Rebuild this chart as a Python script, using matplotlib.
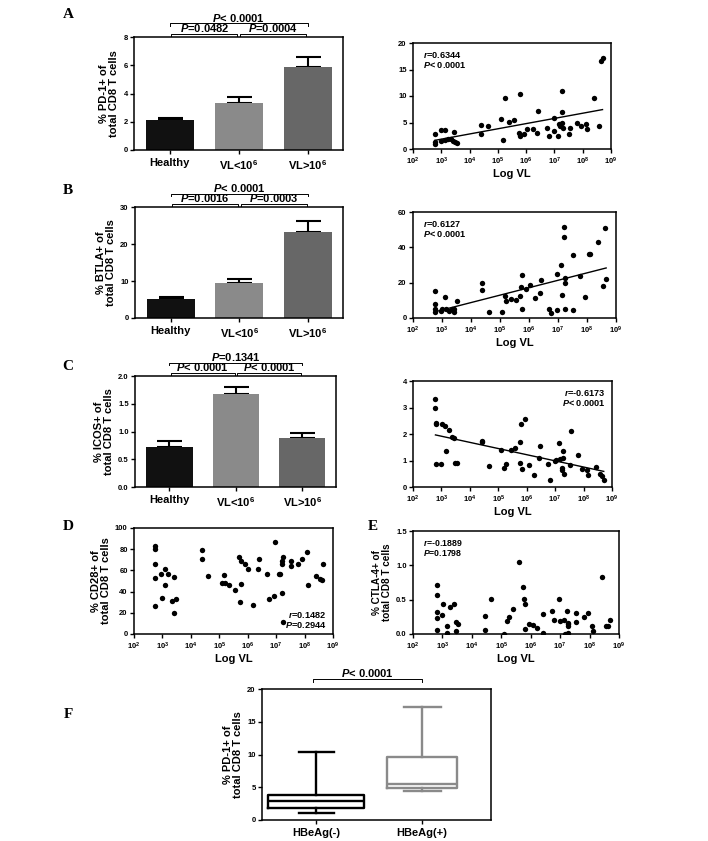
import numpy as np
import matplotlib
matplotlib.use("Agg")
import matplotlib.pyplot as plt
import matplotlib.transforms as mtransforms
from matplotlib.ticker import FixedLocator

plt.rcParams['font.family'] = ['Liberation Sans', 'DejaVu Sans']
plt.rcParams['font.weight'] = 'bold'
plt.rcParams['axes.labelweight'] = 'bold'
plt.rcParams['mathtext.fontset'] = 'custom'
plt.rcParams['mathtext.it'] = 'Liberation Sans:italic:bold'
plt.rcParams['mathtext.rm'] = 'Liberation Sans:bold'
plt.rcParams['mathtext.bf'] = 'Liberation Sans:bold'

# ---------------- data ----------------
groups = ["Healthy", "VL<10$^{6}$", "VL>10$^{6}$"]
bar_colors = ["#111111", "#8a8a8a", "#676767"]

pd1_mean = [2.1, 3.34, 5.85]
pd1_err = [0.15, 0.40, 0.75]
btla_mean = [5.1, 9.4, 23.2]
btla_err = [0.5, 1.1, 2.9]
icos_mean = [0.72, 1.68, 0.88]
icos_err = [0.10, 0.13, 0.09]

# scatter A: PD-1 vs log10 VL
a_logvl = [2.77, 2.77, 2.77, 2.98, 3.12, 3.0, 3.12, 3.24, 3.36, 3.44, 3.42, 3.48, 3.54,
           4.42, 4.42, 4.64, 5.1, 5.17, 5.25, 5.39, 5.57, 5.75, 5.8, 5.8, 5.92, 6.04,
           6.23, 6.4, 6.43, 6.73, 6.8, 6.99, 7.0, 7.12, 7.16, 7.2, 7.26, 7.25, 7.28,
           7.3, 7.53, 7.55, 7.79, 7.94, 8.12, 8.14, 8.4, 8.57, 8.64, 8.7]
a_val = [2.9, 1.3, 1.0, 3.6, 3.6, 1.6, 1.75, 1.9, 1.9, 3.3, 1.6, 1.25, 1.1,
         4.5, 2.9, 4.4, 5.6, 1.75, 9.6, 5.1, 5.4, 3.0, 2.5, 10.3, 2.75, 3.8,
         3.8, 3.1, 7.25, 4.0, 2.5, 5.8, 3.4, 2.5, 4.7, 4.25, 10.9, 6.9, 5.0,
         3.9, 2.9, 4.0, 5.0, 4.25, 4.75, 3.75, 9.6, 4.25, 16.6, 17.2]

# scatter B: BTLA vs log10 VL
b_logvl = [2.76, 2.76, 2.76, 2.76, 2.96, 3.01, 3.1, 3.15, 3.23, 3.33, 3.43, 3.43, 3.5,
           4.39, 4.39, 4.62, 5.07, 5.16, 5.22, 5.37, 5.56, 5.7, 5.72, 5.77, 5.77, 5.91,
           6.05, 6.22, 6.37, 6.42, 6.7, 6.76, 6.95, 6.97, 7.1, 7.13, 7.2, 7.21, 7.24,
           7.25, 7.25, 7.52, 7.5, 7.76, 7.92, 8.08, 8.12, 8.39, 8.56, 8.62, 8.66]
b_val = [15.5, 8.1, 5.3, 3.6, 3.8, 4.9, 11.7, 4.9, 4.0, 5.3, 5.1, 3.4, 9.4,
         20.0, 15.8, 3.2, 3.2, 12.6, 9.8, 10.6, 10.4, 12.3, 17.4, 24.2, 5.3, 16.6,
         18.5, 11.1, 14.0, 21.5, 4.9, 2.8, 4.3, 25.1, 30.0, 12.8, 51.3, 45.8, 22.8,
         5.1, 19.8, 35.5, 4.3, 23.6, 11.7, 36.4, 36.4, 43.2, 18.1, 50.8, 22.3]

# scatter C: ICOS vs log10 VL
c_logvl = [2.79, 2.79, 2.8, 2.8, 2.8, 3.0, 3.03, 3.14, 3.27, 3.15, 3.38, 3.45, 3.48, 3.55,
           4.44, 4.44, 4.66, 5.11, 5.21, 5.26, 5.43, 5.6, 5.75, 5.76, 5.8, 5.82, 5.95,
           6.07, 6.24, 6.42, 6.45, 6.75, 6.81, 6.98, 7.02, 7.13, 7.18, 7.25, 7.28, 7.28,
           7.25, 7.3, 7.56, 7.53, 7.81, 7.96, 8.12, 8.17, 8.42, 8.59, 8.66, 8.71]
c_val = [3.31, 2.99, 2.42, 2.36, 0.85, 0.85, 2.36, 2.3, 2.15, 1.36, 1.89, 1.85, 0.91, 0.91,
         1.74, 1.69, 0.78, 1.39, 0.73, 0.86, 1.41, 1.46, 1.69, 0.92, 2.36, 0.69, 2.56,
         0.83, 0.47, 1.11, 1.55, 0.86, 0.28, 0.98, 1.03, 1.67, 1.05, 0.72, 1.09, 1.35,
         0.66, 0.48, 2.11, 0.82, 1.21, 0.69, 0.63, 0.44, 0.77, 0.5, 0.4, 0.25]

# D: CD28 vs log10 VL
d_logvl = [2.74, 2.74, 2.74, 2.74, 2.74, 2.96, 2.98, 3.09, 3.09, 3.21, 3.33, 3.42, 3.42, 3.49,
           4.39, 4.39, 4.62, 5.08, 5.15, 5.21, 5.35, 5.55, 5.71, 5.72, 5.75, 5.78, 5.91,
           6.0, 6.19, 6.35, 6.41, 6.68, 6.74, 6.92, 6.96, 7.09, 7.14, 7.21, 7.21, 7.22,
           7.25, 7.24, 7.51, 7.52, 7.76, 7.92, 8.08, 8.11, 8.39, 8.55, 8.6, 8.65]
d_val = [82.6, 80.1, 66.1, 53.2, 26.6, 56.3, 34.2, 61.7, 46.5, 56.3, 31.3, 53.8, 19.6, 32.6,
         79.7, 70.3, 55.1, 48.1, 55.7, 48.4, 46.2, 41.8, 72.8, 30.4, 47.5, 69.3, 65.8,
         61.1, 27.8, 61.4, 70.3, 56.3, 32.9, 35.4, 86.7, 56.6, 56.6, 38.3, 69.0, 66.1,
         72.8, 11.4, 69.3, 64.2, 65.8, 71.2, 77.5, 46.5, 55.1, 52.2, 50.6, 66.5]

# E: CTLA-4 vs log10 VL
e_logvl = [2.8, 2.81, 2.8, 2.8, 2.8, 3.0, 3.02, 3.14, 3.16, 3.27, 3.38, 3.45, 3.45, 3.52,
           4.43, 4.43, 4.65, 5.1, 5.18, 5.25, 5.41, 5.59, 5.75, 5.76, 5.8, 5.82, 5.95,
           6.07, 6.23, 6.43, 6.41, 6.72, 6.8, 6.97, 7.0, 7.14, 7.16, 7.23, 7.25, 7.26,
           7.27, 7.26, 7.53, 7.53, 7.8, 7.93, 8.09, 8.11, 8.41, 8.56, 8.61, 8.68]
e_val = [0.72, 0.57, 0.32, 0.24, 0.06, 0.27, 0.44, 0.12, 0.02, 0.40, 0.44, 0.17, 0.04, 0.15,
         0.26, 0.06, 0.51, 0.0, 0.19, 0.25, 0.37, 1.05, 0.68, 0.51, 0.44, 0.07, 0.15,
         0.13, 0.09, 0.29, 0.01, 0.34, 0.2, 0.51, 0.19, 0.21, 0.0, 0.33, 0.16, 0.11,
         0.01, 0.14, 0.3, 0.18, 0.25, 0.3, 0.12, 0.05, 0.83, 0.11, 0.12, 0.2]

# F: box plot stats (whislo, q1, med, q3, whishi)
f_labels = ["HBeAg(-)", "HBeAg(+)"]
f_neg = [1.12, 1.83, 2.9, 3.77, 10.38]
f_pos = [4.38, 4.83, 5.45, 9.62, 17.3]

W, H = 708, 841
fig = plt.figure(figsize=(W / 100, H / 100), dpi=100)


def add_ax(l, r, t, b):
    return fig.add_axes([l / W, 1 - b / H, (r - l) / W, (b - t) / H])


TICK = 5.5
LAB = 8.0
PTXT = 8.0


def style(ax):
    for s in ax.spines.values():
        s.set_linewidth(1.1)
    ax.tick_params(direction='out', length=3, width=1.0, labelsize=TICK, pad=1.5)


def bracket(ax, x1, x2, y, txt, ty, h=0.025):
    tr = mtransforms.blended_transform_factory(ax.transData, ax.transAxes)
    ax.plot([x1, x1, x2, x2], [y - h, y, y, y - h], transform=tr, color='k',
            lw=0.7, clip_on=False)
    ax.text((x1 + x2) / 2, ty, txt, transform=tr, ha='center', va='bottom',
            fontsize=PTXT, fontweight='bold')


def bar_panel(ax, means, errs, ylim, yticks, yticklabels, ylabel, ptxt):
    x = np.arange(3)
    ax.bar(x, means, width=0.7, color=bar_colors, zorder=2)
    ax.errorbar(x, means, yerr=[[0, 0, 0], errs], fmt='none', ecolor='k',
                elinewidth=1.5, capsize=9, capthick=1.5, zorder=1)
    ax.set_xlim(-0.52, 2.51)
    ax.set_ylim(*ylim)
    ax.set_yticks(yticks)
    ax.set_yticklabels(yticklabels)
    ax.set_xticks(x)
    ax.set_xticklabels(groups, fontsize=LAB)
    ax.set_ylabel(ylabel, fontsize=LAB, labelpad=3, linespacing=1.0)
    style(ax)
    ax.tick_params(axis='x', labelsize=LAB, pad=3)
    bracket(ax, 0.02, 0.98, 1.03, ptxt[0], 1.025)
    bracket(ax, 1.02, 1.98, 1.03, ptxt[1], 1.025)
    bracket(ax, 0.0, 2.0, 1.12, ptxt[2], 1.115)


def scatter_panel(ax, lx, vals, ylim, yticks, yticklabels, fit=True):
    xs = 10 ** np.array(lx)
    ax.scatter(xs, vals, s=15, color='k', zorder=3, linewidths=0)
    if fit:
        p = np.polyfit(lx, vals, 1)
        xl = np.array([min(lx), max(lx)])
        ax.plot(10 ** xl, np.polyval(p, xl), color='k', lw=1.0)
    ax.set_xscale('log')
    ax.set_xlim(1e2, 1e9)
    ax.xaxis.set_major_locator(FixedLocator([10 ** k for k in range(2, 10)]))
    ax.xaxis.set_minor_locator(FixedLocator([]))
    ax.set_xticklabels([f"10$^{{{k}}}$" for k in range(2, 10)])
    ax.set_ylim(*ylim)
    ax.set_yticks(yticks)
    ax.set_yticklabels(yticklabels)
    ax.set_xlabel("Log VL", fontsize=LAB, labelpad=2)
    style(ax)


RT = 6.6

# ---- A ----
axA = add_ax(134, 343, 37, 150)
bar_panel(axA, pd1_mean, pd1_err, (0, 8), [0, 2, 4, 6, 8], ["0", "2", "4", "6", "8"],
          "% PD-1+ of\ntotal CD8 T cells",
          ["$P$=0.0482", "$P$=0.0004", "$P$< 0.0001"])
axAs = add_ax(413, 611, 43, 149)
scatter_panel(axAs, a_logvl, a_val, (0, 20), [0, 5, 10, 15, 20], ["0", "5", "10", "15", "20"])
axAs.text(0.05, 0.93, "$r$=0.6344\n$P$< 0.0001", transform=axAs.transAxes, ha='left',
          va='top', fontsize=RT, linespacing=1.0)

# ---- B ----
axB = add_ax(135, 343, 207, 318)
bar_panel(axB, btla_mean, btla_err, (0, 30), [0, 10, 20, 30], ["0", "10", "20", "30"],
          "% BTLA+ of\ntotal CD8 T cells",
          ["$P$=0.0016", "$P$=0.0003", "$P$< 0.0001"])
axBs = add_ax(413, 616, 212, 318)
scatter_panel(axBs, b_logvl, b_val, (0, 60), [0, 20, 40, 60], ["0", "20", "40", "60"])
axBs.text(0.05, 0.93, "$r$=0.6127\n$P$< 0.0001", transform=axBs.transAxes, ha='left',
          va='top', fontsize=RT, linespacing=1.0)

# ---- C ----
axC = add_ax(135, 336, 376, 487)
bar_panel(axC, icos_mean, icos_err, (0, 2.0), [0, 0.5, 1.0, 1.5, 2.0],
          ["0.0", "0.5", "1.0", "1.5", "2.0"],
          "% ICOS+ of\ntotal CD8 T cells",
          ["$P$< 0.0001", "$P$< 0.0001", "$P$=0.1341"])
axCs = add_ax(413, 612, 381, 487)
scatter_panel(axCs, c_logvl, c_val, (0, 4), [0, 1, 2, 3, 4], ["0", "1", "2", "3", "4"])
axCs.text(0.97, 0.93, "$r$=-0.6173\n$P$< 0.0001", transform=axCs.transAxes, ha='right',
          va='top', fontsize=RT, linespacing=1.0)

# ---- D ----
axD = add_ax(134, 333, 528, 634)
scatter_panel(axD, d_logvl, d_val, (0, 100), [0, 20, 40, 60, 80, 100],
              ["0", "20", "40", "60", "80", "100"], fit=False)
axD.set_ylabel("% CD28+ of\ntotal CD8 T cells", fontsize=LAB, labelpad=3, linespacing=1.0)
axD.text(0.965, 0.04, "$r$=0.1482\n$P$=0.2944", transform=axD.transAxes, ha='right',
         va='bottom', fontsize=RT, linespacing=1.0)

# ---- E ----
axE = add_ax(413, 619, 531, 634)
scatter_panel(axE, e_logvl, e_val, (0, 1.5), [0, 0.5, 1.0, 1.5],
              ["0.0", "0.5", "1.0", "1.5"], fit=False)
axE.set_ylabel("% CTLA-4+ of\ntotal CD8 T cells", fontsize=7.2, labelpad=3, linespacing=1.0)
axE.text(0.05, 0.93, "$r$=-0.1889\n$P$=0.1798", transform=axE.transAxes, ha='left',
         va='top', fontsize=6.3, linespacing=1.0)

# ---- F ----
axF = add_ax(262, 491, 689, 820)
stats = []
for lab, s in zip(f_labels, [f_neg, f_pos]):
    stats.append(dict(label=lab, whislo=s[0], q1=s[1], med=s[2], q3=s[3], whishi=s[4]))
axF.bxp([stats[0]], positions=[1], widths=0.9, showfliers=False,
        boxprops=dict(color='k', lw=1.7), whiskerprops=dict(color='k', lw=1.7),
        capprops=dict(color='k', lw=1.7), medianprops=dict(color='k', lw=1.7),
        capwidths=0.33)
axF.bxp([stats[1]], positions=[2], widths=0.66, showfliers=False,
        boxprops=dict(color='#8a8a8a', lw=1.7),
        whiskerprops=dict(color='#8a8a8a', lw=1.7),
        capprops=dict(color='#8a8a8a', lw=1.7),
        medianprops=dict(color='#8a8a8a', lw=1.7), capwidths=0.35)
axF.set_xlim(0.49, 2.65)
axF.set_ylim(0, 20)
axF.set_yticks([0, 5, 10, 15, 20])
axF.set_xticks([1, 2])
axF.set_xticklabels(f_labels, fontsize=LAB)
axF.set_ylabel("% PD-1+ of\ntotal CD8 T cells", fontsize=LAB, labelpad=3, linespacing=1.0)
style(axF)
axF.tick_params(axis='x', labelsize=LAB, pad=3)
bracket(axF, 0.97, 2.0, 1.075, "$P$< 0.0001", 1.075, h=0.025)

# ---- panel letters ----
for letter, (px, py) in {"A": (68, 15), "B": (68, 191), "C": (68, 366), "D": (68, 527),
                         "E": (373, 527), "F": (68, 715)}.items():
    fig.text(px / W, 1 - py / H, letter, ha='center', va='center', fontsize=11,
             fontweight='bold', family=['Liberation Serif', 'DejaVu Serif'])

fig.savefig("out.png", dpi=100)
